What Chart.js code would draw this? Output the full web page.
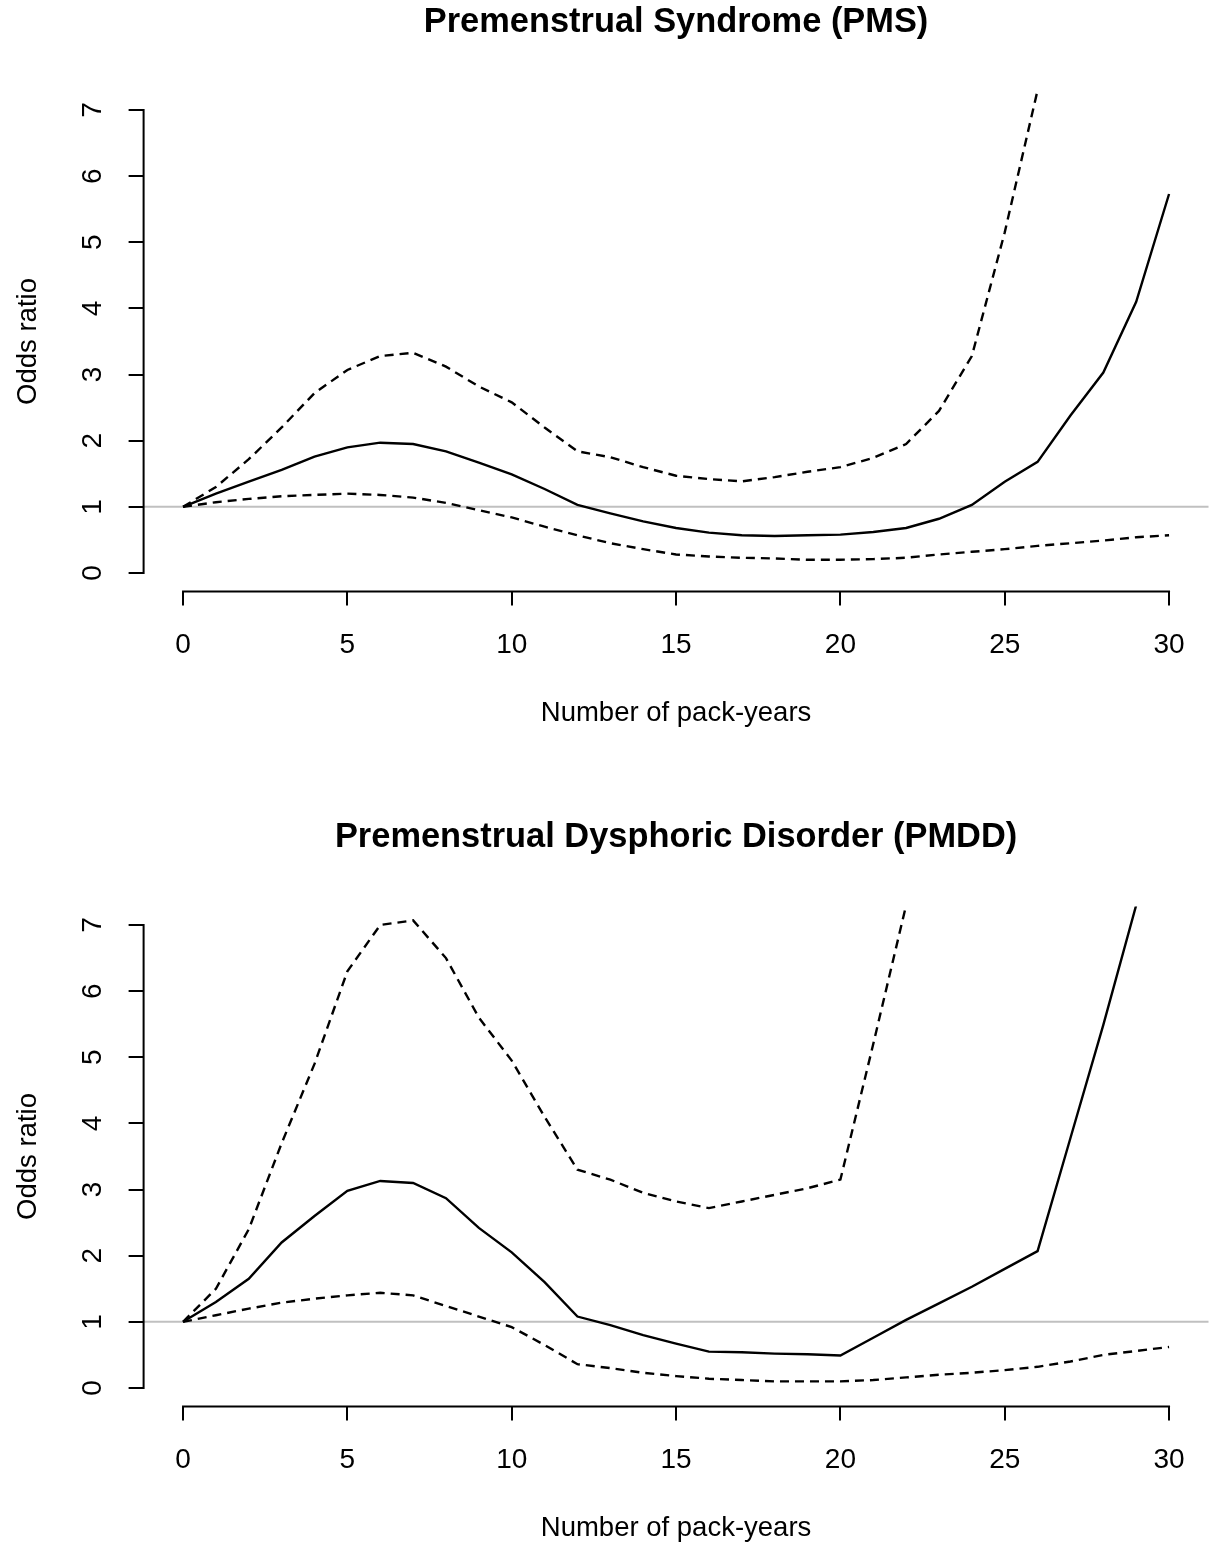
<!DOCTYPE html>
<html>
<head>
<meta charset="utf-8">
<script src="https://cdn.jsdelivr.net/npm/chart.js@4.4.0/dist/chart.umd.min.js"></script>
<style>
  body { margin: 0; background: #fff; width: 1217px; height: 1544px; position: relative; overflow: hidden; }
  .panel { position: absolute; left: 0; width: 1217px; height: 745px; }
</style>
</head>
<body>
<div class="panel" style="top:0"><canvas id="pms" width="1217" height="745"></canvas></div>
<div class="panel" style="top:815px"><canvas id="pmdd" width="1217" height="745"></canvas></div>
<script>
// pack-years (x) and tick marks
const packYears = [0, 1, 2, 3, 4, 5, 6, 7, 8, 9, 10, 11, 12, 13, 14, 15, 16, 17, 18, 19, 20, 21, 22, 23, 24, 25, 26, 27, 28, 29, 30];
const xTicks = [0, 5, 10, 15, 20, 25, 30];
const yTicks = [0, 1, 2, 3, 4, 5, 6, 7];
const refOR = 1;

// PMS: odds ratio with 95% CI (upper runs off the top after 26)
const pmsOR = [1.0, 1.2, 1.38, 1.56, 1.76, 1.9, 1.97, 1.95, 1.84, 1.67, 1.49, 1.27, 1.03, 0.9, 0.78, 0.68, 0.61, 0.57, 0.56, 0.57, 0.58, 0.62, 0.68, 0.82, 1.03, 1.38, 1.68, 2.38, 3.03, 4.1, 5.73];
const pmsLower = [1.0, 1.07, 1.12, 1.16, 1.18, 1.2, 1.18, 1.14, 1.06, 0.95, 0.84, 0.7, 0.57, 0.45, 0.36, 0.28, 0.25, 0.23, 0.22, 0.2, 0.2, 0.21, 0.23, 0.28, 0.32, 0.36, 0.41, 0.45, 0.49, 0.54, 0.57];
const pmsUpper = [1.0, 1.3, 1.72, 2.2, 2.72, 3.07, 3.28, 3.33, 3.12, 2.82, 2.58, 2.2, 1.84, 1.75, 1.6, 1.47, 1.42, 1.385, 1.45, 1.53, 1.6, 1.74, 1.95, 2.45, 3.28, 5.15, 7.3];

// PMDD
const pmddOR = [1.0, 1.3, 1.65, 2.2, 2.6, 2.98, 3.13, 3.1, 2.87, 2.42, 2.05, 1.6, 1.08, 0.95, 0.8, 0.67, 0.55, 0.54, 0.52, 0.51, 0.49, 0.76, 1.03, 1.28, 1.53, 1.8, 2.07, 3.78, 5.49, 7.3];
const pmddLower = [1.0, 1.1, 1.2, 1.29, 1.35, 1.4, 1.44, 1.4, 1.24, 1.08, 0.92, 0.65, 0.36, 0.3, 0.23, 0.18, 0.14, 0.12, 0.1, 0.1, 0.1, 0.12, 0.16, 0.2, 0.23, 0.27, 0.32, 0.4, 0.5, 0.56, 0.62];
const pmddUpper = [1.0, 1.5, 2.4, 3.7, 4.9, 6.3, 7.0, 7.07, 6.5, 5.6, 4.95, 4.1, 3.3, 3.15, 2.95, 2.82, 2.72, 2.82, 2.92, 3.02, 3.15, 5.2, 7.3];

const FONT = "'Liberation Sans', Arial, sans-serif";
Chart.defaults.color = '#000';
Chart.defaults.font.family = FONT;

// R-like axes: axis lines only between first and last tick, grey reference line
const rStyleAxes = {
  id: 'rStyleAxes',
  beforeDatasetsDraw(chart) {
    const { ctx, chartArea: a, scales: { y } } = chart;
    const yRef = y.getPixelForValue(refOR);
    ctx.save();
    ctx.strokeStyle = '#c0c0c0';
    ctx.lineWidth = 2;
    ctx.beginPath();
    ctx.moveTo(a.left, yRef);
    ctx.lineTo(a.right, yRef);
    ctx.stroke();
    ctx.restore();
  },
  afterDraw(chart) {
    const { ctx, chartArea: a, scales: { x, y } } = chart;
    ctx.save();
    ctx.strokeStyle = '#000';
    ctx.lineWidth = 2;
    ctx.lineCap = 'square';
    ctx.beginPath();
    ctx.moveTo(x.getPixelForValue(xTicks[0]), a.bottom);
    ctx.lineTo(x.getPixelForValue(xTicks[xTicks.length - 1]), a.bottom);
    ctx.moveTo(a.left, y.getPixelForValue(yTicks[0]));
    ctx.lineTo(a.left, y.getPixelForValue(yTicks[yTicks.length - 1]));
    ctx.stroke();
    ctx.restore();
  }
};

function makeChart(id, title, est, lower, upper) {
  const pts = arr => arr.map((v, i) => ({ x: packYears[i], y: v }));
  const line = { borderColor: '#000', pointRadius: 0, tension: 0, clip: 0, fill: false };
  return new Chart(document.getElementById(id), {
    type: 'line',
    data: {
      datasets: [
        { ...line, label: 'Odds ratio', data: pts(est), borderWidth: 2.4 },
        { ...line, label: 'Lower CI', data: pts(lower), borderWidth: 2.4, borderDash: [9, 6] },
        { ...line, label: 'Upper CI', data: pts(upper), borderWidth: 2.4, borderDash: [9, 6] }
      ]
    },
    options: {
      responsive: false,
      animation: false,
      layout: { padding: { left: 0, right: 8.5, top: 0, bottom: 0 } },
      plugins: {
        legend: { display: false },
        tooltip: { enabled: false },
        title: {
          display: true,
          text: title,
          fullSize: false,
          font: { family: FONT, size: 34.4, weight: 'bold' },
          padding: { top: 1.4, bottom: 48.8 }
        }
      },
      scales: {
        x: {
          type: 'linear',
          min: -1.2,
          max: 31.2,
          afterBuildTicks: s => { s.ticks = xTicks.map(v => ({ value: v })); },
          afterFit: s => { s.height = 153.5; },
          border: { display: false },
          grid: { drawOnChartArea: false, drawTicks: true, tickLength: 14, color: '#000', lineWidth: 2 },
          ticks: { font: { size: 28 }, padding: 22.7, maxRotation: 0 },
          title: { display: true, text: 'Number of pack-years', font: { size: 27.5 }, padding: { top: 0, bottom: 15.5 } }
        },
        y: {
          type: 'linear',
          min: -0.28,
          max: 7.28,
          afterBuildTicks: s => { s.ticks = yTicks.map(v => ({ value: v })); },
          afterFit: s => { s.width = 143.6; },
          border: { display: false },
          grid: { drawOnChartArea: false, drawTicks: true, tickLength: 15, color: '#000', lineWidth: 2 },
          ticks: { font: { size: 28 }, padding: 27.8, minRotation: 90, maxRotation: 90, crossAlign: 'center' },
          title: { display: true, text: 'Odds ratio', font: { size: 27.5 }, padding: { top: 12, bottom: 0 } }
        }
      }
    },
    plugins: [rStyleAxes]
  });
}

makeChart('pms', 'Premenstrual Syndrome (PMS)', pmsOR, pmsLower, pmsUpper);
makeChart('pmdd', 'Premenstrual Dysphoric Disorder (PMDD)', pmddOR, pmddLower, pmddUpper);
</script>
</body>
</html>
